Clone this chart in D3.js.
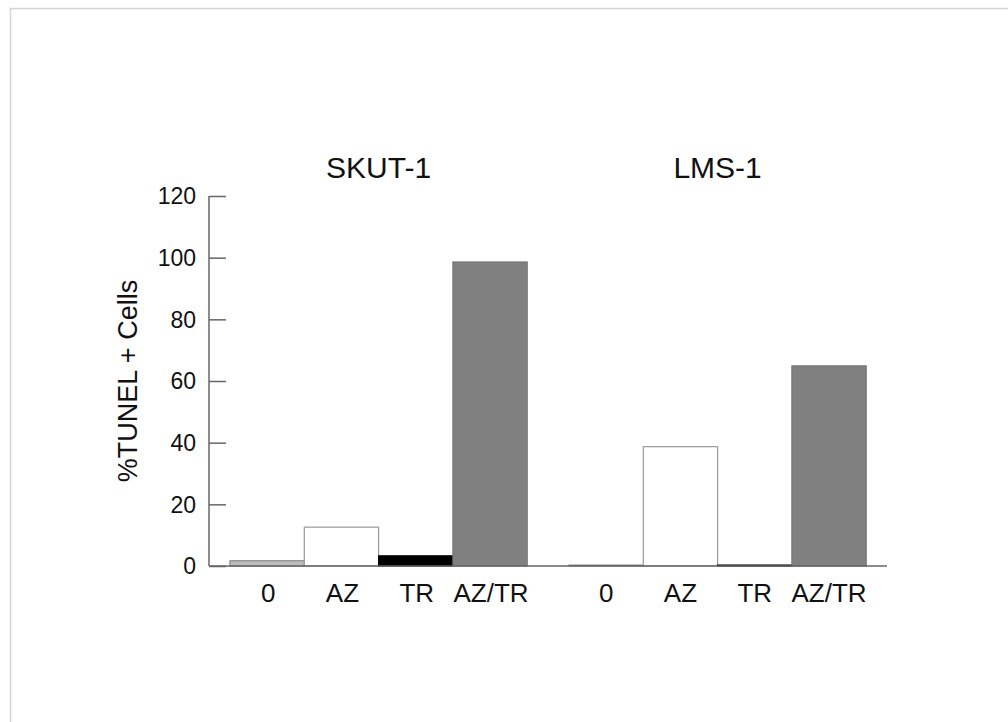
<!DOCTYPE html>
<html><head><meta charset="utf-8">
<script src="https://cdn.jsdelivr.net/npm/d3@7"></script>
<style>body{margin:0;background:#fff}svg{display:block}text{font-family:"Liberation Sans",Arial,sans-serif;fill:#111}</style>
</head><body><svg id="c" width="1008" height="722"></svg>
<script>
const groups = ["SKUT-1", "LMS-1"];
const treatments = ["0", "AZ", "TR", "AZ/TR"];
const skutValues = [1.7, 12.6, 3.3, 98.6];
const lmsValues = [0.3, 38.7, 0.3, 64.9];
const yTicks = [0, 20, 40, 60, 80, 100, 120];
const fills = ["#bdbdbd", "#ffffff", "#000000", "#808080"];
const strokes = ["#888888", "#999999", "#000000", "#777777"];

const svg = d3.select("#c");
// frame
svg.append("rect").attr("x",10.5).attr("y",8.5).attr("width",1100).attr("height",800)
  .attr("fill","none").attr("stroke","#d4d4d4").attr("stroke-width",1.5);

const y = d3.scaleLinear().domain([0,120]).range([566,196]);
const axisX0 = 209, axisX1 = 887;
const groupScale = d3.scaleOrdinal().domain(groups).range([230, 569]);
const barW = 74.3;
const xBand = d3.scaleBand().domain(treatments).range([0, barW*4]).padding(0);
const data = [skutValues, lmsValues];

// y axis
const yAxis = d3.axisRight(y).tickValues(yTicks).tickSize(17).tickFormat("");
const ga = svg.append("g").attr("transform",`translate(${axisX0},0)`).call(yAxis);
ga.select(".domain").remove();
ga.selectAll(".tick line").attr("stroke","#666").attr("stroke-width",1.5);
svg.append("line").attr("x1",axisX0).attr("x2",axisX0).attr("y1",y(120)).attr("y2",y(0))
  .attr("stroke","#666").attr("stroke-width",1.5);
svg.selectAll(".ytl").data(yTicks).join("text").attr("class","ytl")
  .attr("x",196).attr("y",d=>y(d)).attr("dy","0.36em").attr("text-anchor","end")
  .attr("font-size",23).text(d=>d);

groups.forEach((g,gi)=>{
  const gx = groupScale(g);
  const gg = svg.append("g").attr("transform",`translate(${gx},0)`);
  gg.selectAll("rect").data(data[gi]).join("rect")
    .attr("x",(d,i)=>xBand(treatments[i]))
    .attr("width",xBand.bandwidth())
    .attr("y",d=>y(d)).attr("height",d=>y(0)-y(d))
    .attr("fill",(d,i)=>fills[i]).attr("stroke",(d,i)=>strokes[i]).attr("stroke-width",1.2);
  gg.selectAll("text.xl").data(treatments).join("text").attr("class","xl")
    .attr("x",d=>xBand(d)+xBand.bandwidth()/2 + (gi===0?1:0))
    .attr("y",602).attr("text-anchor","middle").attr("font-size",26).text(d=>d);
  gg.append("text").attr("x",barW*2).attr("y",178).attr("text-anchor","middle")
    .attr("font-size",30).text(g);
});

// x axis baseline
svg.append("line").attr("x1",axisX0).attr("x2",axisX1).attr("y1",y(0)).attr("y2",y(0))
  .attr("stroke","#666").attr("stroke-width",1.5);

// y label
svg.append("text").attr("transform",`translate(137,${(y(0)+y(120))/2}) rotate(-90)`)
  .attr("text-anchor","middle").attr("font-size",27).text("%TUNEL + Cells");
</script></body></html>
